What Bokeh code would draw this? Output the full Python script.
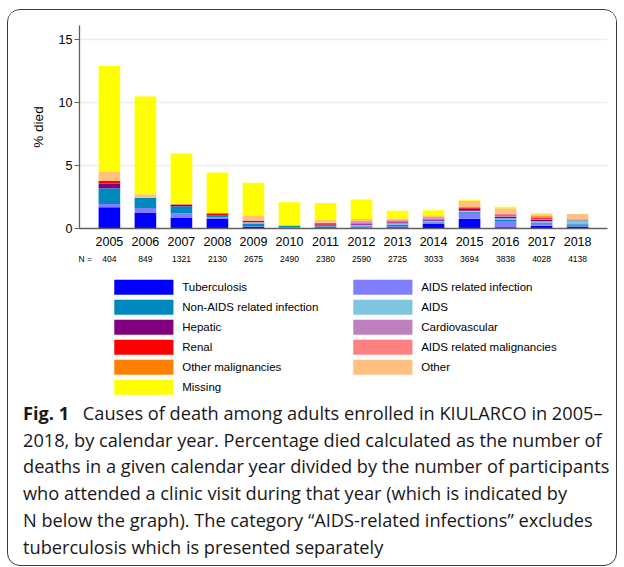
from bokeh.plotting import figure
from bokeh.models import ColumnDataSource, Range1d, FixedTicker, LinearAxis, Div
from bokeh.layouts import column
from bokeh.core.properties import value
from bokeh.embed import file_html
from bokeh.resources import INLINE

# ---------------- data ----------------
years = ["2005", "2006", "2007", "2008", "2009", "2010", "2011",
         "2012", "2013", "2014", "2015", "2016", "2017", "2018"]
n_participants = [404, 849, 1321, 2130, 2675, 2490, 2380,
                  2590, 2725, 3033, 3694, 3838, 4028, 4138]

tuberculosis = [1.68, 1.27, 0.88, 0.80, 0.12, 0.04, 0.10, 0.08, 0.10, 0.35, 0.77, 0.10, 0.22, 0.12]
aids_infection = [0.27, 0.35, 0.30, 0.10, 0.08, 0.04, 0.06, 0.10, 0.10, 0.12, 0.48, 0.50, 0.15, 0.10]
non_aids_infection = [1.25, 0.80, 0.58, 0.12, 0.20, 0.12, 0.10, 0.06, 0.12, 0.08, 0.08, 0.12, 0.10, 0.12]
aids = [0.00, 0.00, 0.00, 0.00, 0.10, 0.05, 0.00, 0.05, 0.10, 0.06, 0.08, 0.10, 0.10, 0.32]
hepatic = [0.37, 0.00, 0.10, 0.00, 0.00, 0.00, 0.06, 0.10, 0.08, 0.10, 0.16, 0.12, 0.10, 0.03]
cardiovascular = [0.00, 0.00, 0.00, 0.00, 0.00, 0.00, 0.00, 0.10, 0.10, 0.10, 0.00, 0.10, 0.10, 0.00]
renal = [0.22, 0.00, 0.05, 0.18, 0.10, 0.00, 0.10, 0.00, 0.00, 0.00, 0.10, 0.04, 0.10, 0.00]
aids_malignancies = [0.00, 0.00, 0.05, 0.00, 0.05, 0.00, 0.00, 0.06, 0.06, 0.06, 0.00, 0.08, 0.06, 0.04]
other_malignancies = [0.00, 0.00, 0.00, 0.00, 0.00, 0.00, 0.04, 0.05, 0.04, 0.05, 0.04, 0.00, 0.10, 0.00]
other = [0.74, 0.29, 0.00, 0.00, 0.35, 0.00, 0.24, 0.15, 0.10, 0.13, 0.50, 0.45, 0.10, 0.42]
missing = [8.35, 7.75, 3.98, 3.25, 2.62, 1.83, 1.33, 1.55, 0.60, 0.40, 0.08, 0.12, 0.10, 0.00]

cause_names = ["Tuberculosis", "AIDS related infection", "Non-AIDS related infection",
               "AIDS", "Hepatic", "Cardiovascular", "Renal", "AIDS related malignancies",
               "Other malignancies", "Other", "Missing"]
cause_values = [tuberculosis, aids_infection, non_aids_infection, aids, hepatic,
                cardiovascular, renal, aids_malignancies, other_malignancies, other, missing]
cause_colors = ["#0000FF", "#8080FF", "#0089BE", "#7FC5E0", "#800080", "#C080C0",
                "#FF0000", "#FF8080", "#FF8000", "#FFC080", "#FFFF00"]

y_ticks = [0, 5, 10, 15]

caption_bold = "Fig. 1"
caption_lines = [
    "Causes of death among adults enrolled in KIULARCO in 2005\u2013",
    "2018, by calendar year. Percentage died calculated as the number of",
    "deaths in a given calendar year divided by the number of participants",
    "who attended a clinic visit during that year (which is indicated by",
    "N below the graph). The category \u201cAIDS-related infections\u201d excludes",
    "tuberculosis which is presented separately",
]

CHART_FONT = "Liberation Sans"
CAP_FONT = "Open Sans"

# ---------------- chart ----------------
x_pos = list(range(len(years)))
keys = ["c%d" % i for i in range(len(cause_names))]
data = {"x": x_pos}
for k, v in zip(keys, cause_values):
    data[k] = v
source = ColumnDataSource(data)

W = 608
HA = 261     # chart
HB = 128     # legend
HC = 166     # caption
LEFT, RIGHT = 71, 9

p = figure(width=W, height=HA,
           x_range=Range1d(-0.83, len(years) - 1 + 0.83),
           y_range=Range1d(0, 16.1),
           output_backend="svg", toolbar_location=None,
           min_border_left=LEFT, min_border_right=RIGHT,
           min_border_top=15, min_border_bottom=43)
p.outline_line_color = None

p.vbar_stack(keys, x="x", width=0.6, source=source,
             fill_color=cause_colors, line_color=None)

# y axis
p.yaxis.ticker = FixedTicker(ticks=y_ticks)
p.yaxis.axis_label = "% died"
p.yaxis.axis_label_text_font = CHART_FONT
p.yaxis.axis_label_text_font_style = "normal"
p.yaxis.axis_label_text_font_size = "13.5px"
p.yaxis.axis_label_text_color = "#000000"
p.yaxis.axis_label_standoff = 10
p.yaxis.major_label_text_font = CHART_FONT
p.yaxis.major_label_text_font_size = "12.5px"
p.yaxis.major_label_text_color = "#000000"
p.yaxis.major_label_standoff = 2
p.yaxis.major_tick_out = 5
p.yaxis.major_tick_in = 0
p.yaxis.minor_tick_line_color = None
p.yaxis.axis_line_color = "#606060"
p.yaxis.axis_line_width = 1.3
p.yaxis.major_tick_line_color = "#606060"

# x axis: years
p.xaxis.ticker = FixedTicker(ticks=x_pos)
p.xaxis.major_label_overrides = {i: y for i, y in zip(x_pos, years)}
p.xaxis.major_label_text_font = CHART_FONT
p.xaxis.major_label_text_font_size = "12.5px"
p.xaxis.major_label_text_color = "#000000"
p.xaxis.major_tick_line_color = None
p.xaxis.minor_tick_line_color = None
p.xaxis.major_tick_out = 0
p.xaxis.major_tick_in = 0
p.xaxis.major_label_standoff = 8
p.xaxis.axis_line_color = "#606060"
p.xaxis.axis_line_width = 1.5

# second axis: N per year
n_tick = -0.67
n_axis = LinearAxis(ticker=FixedTicker(ticks=[n_tick] + x_pos),
                    major_label_overrides={**{n_tick: "N ="},
                                           **{i: str(n) for i, n in zip(x_pos, n_participants)}},
                    axis_line_color=None, major_tick_line_color=None,
                    minor_tick_line_color=None, major_tick_out=0, major_tick_in=0,
                    major_label_standoff=5,
                    major_label_text_font=CHART_FONT,
                    major_label_text_font_size="8.5px",
                    major_label_text_color="#000000")
p.add_layout(n_axis, "below")

p.xgrid.grid_line_color = None
p.ygrid.ticker = FixedTicker(ticks=y_ticks)
p.ygrid.grid_line_color = "#E6EFF1"
p.ygrid.grid_line_width = 1.5

# ---------------- legend panel (frame aligned with the chart frame) ----------------
frame_x0 = 79           # page x of the frame's left edge
frame_x1 = 79 + W - LEFT - RIGHT
q = figure(width=W, height=HB, x_range=Range1d(frame_x0, frame_x1), y_range=Range1d(HB, 0),
           x_axis_type=None, y_axis_type=None, output_backend="svg",
           toolbar_location=None, min_border_left=LEFT, min_border_right=RIGHT,
           min_border_top=0, min_border_bottom=0)
q.outline_line_color = None
q.xgrid.visible = False
q.ygrid.visible = False

sw_left, sw_right, txt_x, row_y = [], [], [], []
for i in range(len(cause_names)):
    row, col = divmod(i, 2)
    x0 = 114 if col == 0 else 353
    sw_left.append(x0)
    sw_right.append(x0 + 58.7)
    txt_x.append(x0 + 67.7)
    row_y.append(15.7 + 20 * row)

q.quad(left=sw_left, right=sw_right,
       top=[y - 7.3 for y in row_y], bottom=[y + 7.3 for y in row_y],
       fill_color=cause_colors, line_color=cause_colors, line_alpha=0.45, line_width=1)
q.text(x=txt_x, y=row_y, text=cause_names, text_align="left", text_baseline="middle",
       text_font=value(CHART_FONT), text_font_size=value("11.5px"), text_color="#000000")

# ---------------- caption ----------------
cap_html = (
    '<div style="font-family: \'Open Sans\'; font-size: 18.2px; line-height: 26.7px; '
    'color: #1a1718; padding-left: 15px; margin-top: 1px; white-space: nowrap;">'
    '<span style="font-weight: bold; margin-right: 9px;">' + caption_bold + '</span> '
    + "<br>".join(caption_lines) + '</div>'
)
d = Div(text=cap_html, width=W, height=HC, margin=0)

layout = column(p, q, d, margin=(9, 0, 0, 7),
                styles={"border": "1px solid #3a3a3a", "border-radius": "13px",
                        "overflow": "hidden", "background-color": "white"})

open("out.html", "w").write(file_html(layout, INLINE))
